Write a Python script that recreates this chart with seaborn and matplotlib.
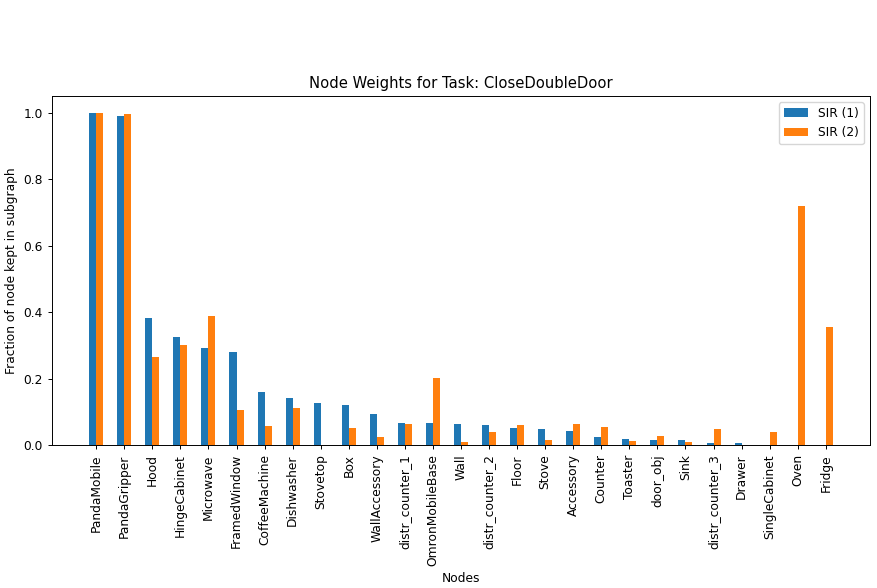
import matplotlib
matplotlib.use("Agg")
import matplotlib.pyplot as plt
import seaborn as sns
import pandas as pd

# Data
nodes = ["PandaMobile", "PandaGripper", "Hood", "HingeCabinet", "Microwave",
         "FramedWindow", "CoffeeMachine", "Dishwasher", "Stovetop", "Box",
         "WallAccessory", "distr_counter_1", "OmronMobileBase", "Wall",
         "distr_counter_2", "Floor", "Stove", "Accessory", "Counter", "Toaster",
         "door_obj", "Sink", "distr_counter_3", "Drawer", "SingleCabinet",
         "Oven", "Fridge"]
sir1 = [1.000, 0.991, 0.383, 0.325, 0.292, 0.280, 0.160, 0.142, 0.127, 0.121,
        0.094, 0.066, 0.066, 0.063, 0.060, 0.051, 0.048, 0.042, 0.024, 0.018,
        0.015, 0.015, 0.006, 0.006, 0.001, 0.001, 0.001]
sir2 = [1.000, 0.997, 0.265, 0.301, 0.388, 0.105, 0.057, 0.111, 0.001, 0.051,
        0.024, 0.063, 0.202, 0.009, 0.039, 0.060, 0.015, 0.063, 0.054, 0.012,
        0.027, 0.009, 0.048, 0.001, 0.039, 0.720, 0.355]
series = ["SIR (1)", "SIR (2)"]
colors = ["#1f77b4", "#ff7f0e"]

df = pd.DataFrame({
    "node": nodes * 2,
    "weight": sir1 + sir2,
    "method": [series[0]] * len(nodes) + [series[1]] * len(nodes),
})

# reference looks like it was saved at a slightly lower dpi, so shrink text/lines
plt.rcParams["font.size"] = 8.8
plt.rcParams["axes.linewidth"] = 0.7
plt.rcParams["xtick.major.width"] = 0.7
plt.rcParams["ytick.major.width"] = 0.7
plt.rcParams["xtick.major.size"] = 3.1
plt.rcParams["ytick.major.size"] = 3.1

fig = plt.figure(figsize=(8.77, 5.88), dpi=100)
ax = fig.add_axes([0.0593, 0.2432, 0.9327, 0.5935])

sns.barplot(data=df, x="node", y="weight", hue="method", order=nodes,
            hue_order=series, palette=colors, saturation=1, width=0.5,
            errorbar=None, ax=ax)

ax.set_xlim(-1.575, len(nodes) - 1 + 1.575)
ax.set_ylim(0, 1.05)
ax.set_title("Node Weights for Task: CloseDoubleDoor", fontsize=10.6)
ax.set_xlabel("Nodes")
ax.set_ylabel("Fraction of node kept in subgraph")
ax.tick_params(axis="x", rotation=90)

handles, labels = ax.get_legend_handles_labels()
ax.legend(handles, labels, loc="upper right")

fig.savefig("out.png", dpi=100)
